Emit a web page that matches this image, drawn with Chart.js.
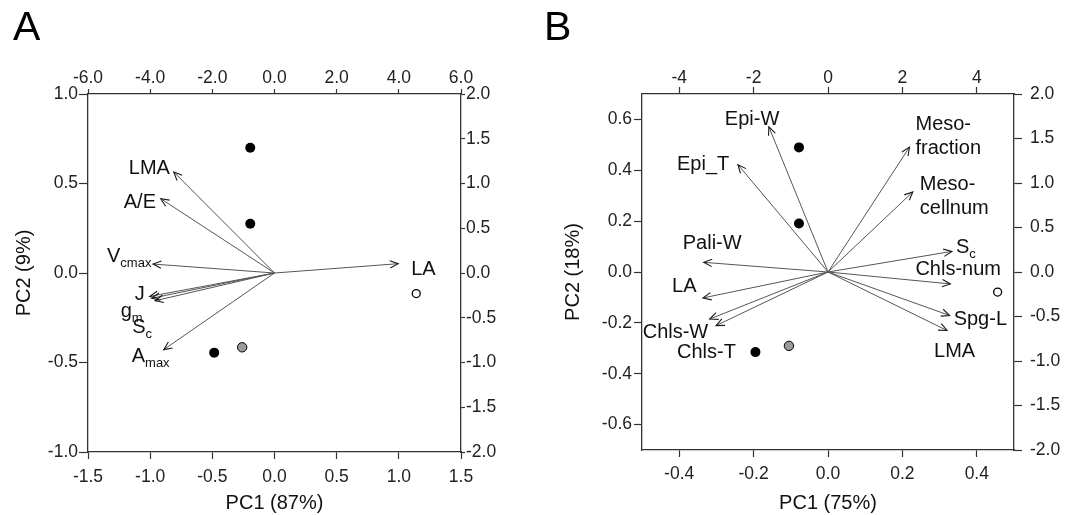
<!DOCTYPE html>
<html>
<head>
<meta charset="utf-8">
<script src="https://cdn.jsdelivr.net/npm/chart.js@4.4.0/dist/chart.umd.min.js"></script>
<style>
  html, body { margin: 0; padding: 0; background: #fff; }
  #wrap { position: relative; width: 1073px; height: 515px; }
  #chartA { position: absolute; left: 0; top: 0; }
  #chartB { position: absolute; left: 536px; top: 0; }
</style>
</head>
<body>
<div id="wrap">
  <canvas id="chartA" width="536" height="515"></canvas>
  <canvas id="chartB" width="537" height="515"></canvas>
</div>
<script>
// Panel A: loadings on bottom/left axes, scores on top/right axes
const loadNamesA = ['LMA', 'A/E', 'V', 'J', 'g', 'S', 'A', 'LA'];
const loadSubsA = ['', '', 'cmax', '', 'm', 'c', 'max', ''];
const loadXA = [-0.81, -0.915, -0.977, -1.004, -0.988, -0.96, -0.891, 0.995];
const loadYA = [0.564, 0.415, 0.05, -0.131, -0.141, -0.155, -0.428, 0.052];
const scoreXA = [-0.78, -0.78, -1.94, -1.04, 4.56];
const scoreYA = [1.40, 0.55, -0.89, -0.83, -0.23];
const ticksBottomA = [-1.5, -1.0, -0.5, 0, 0.5, 1.0, 1.5];
const ticksLeftA = [-1.0, -0.5, 0, 0.5, 1.0];
const ticksTopA = [-6, -4, -2, 0, 2, 4, 6];
const ticksRightA = [-2, -1.5, -1, -0.5, 0, 0.5, 1, 1.5, 2];

// Panel B
const loadNamesB = ['Epi-W', 'Epi_T', 'Pali-W', 'LA', 'Chls-W', 'Chls-T', 'Meso-\nfraction', 'Meso-\ncellnum', 'S', 'Chls-num', 'Spg-L', 'LMA'];
const loadSubsB = ['', '', '', '', '', '', '', '', 'c', '', '', ''];
const loadXB = [-0.159, -0.242, -0.334, -0.336, -0.318, -0.301, 0.219, 0.228, 0.333, 0.329, 0.327, 0.32];
const loadYB = [0.571, 0.422, 0.038, -0.102, -0.185, -0.211, 0.491, 0.315, 0.081, -0.047, -0.171, -0.230];
const scoreXB = [-0.78, -0.78, -1.95, -1.05, 4.56];
const scoreYB = [1.40, 0.545, -0.90, -0.83, -0.225];
const ticksBottomB = [-0.4, -0.2, 0, 0.2, 0.4];
const ticksLeftB = [-0.6, -0.4, -0.2, 0, 0.2, 0.4, 0.6];
const ticksTopB = [-4, -2, 0, 2, 4];
const ticksRightB = [-2, -1.5, -1, -0.5, 0, 0.5, 1, 1.5, 2];

// label placement next to arrow tips (px)
const labelOffA = [[-45, -4], [-37, 4], [-46, -8], [-15, -2], [-31, 13], [-23, 27], [-32, 7], [13, 6]];
const labelOffB = [[-44, -7], [-61, 0], [-21, -19], [-31, -11], [-67, 13], [-39, 27],
                   [6, -23], [7, -7], [4, -4], [-35, -14], [4, 4], [-13, 21]];

// symbols for the five score points
const scoreFill = ['#000', '#000', '#000', '#9a9a9a', '#fff'];
const scoreRadius = [5, 5, 5, 4.7, 4];
const scoreBorder = [0, 0, 0, 1, 1.3];

const FONT = "'Liberation Sans', Arial, Helvetica, sans-serif";
Chart.defaults.font.family = FONT;
Chart.defaults.color = '#111';

function setTicks(list) {
    return scale => { scale.ticks = list.map(v => ({ value: v })); };
}

function axis(pos, min, max, list, size, tickLen, pad, fmt, title, titlePad) {
    const horiz = pos === 'top' || pos === 'bottom';
    return {
        type: 'linear',
        position: pos,
        min: min,
        max: max,
        afterBuildTicks: setTicks(list),
        afterFit: s => { if (horiz) s.height = size; else s.width = size; },
        grid: { display: true, drawOnChartArea: false, drawTicks: true, tickLength: tickLen,
                color: '#333', tickColor: '#333', tickWidth: 1.2 },
        border: { display: true, color: '#333', width: 1.3 },
        ticks: { autoSkip: false, maxRotation: 0, padding: pad, color: '#222',
                 font: { size: 17.5 }, callback: fmt },
        title: title ? { display: true, text: title, color: '#111', font: { size: 20 }, padding: titlePad }
                     : { display: false }
    };
}

const fix1 = v => Number(v).toFixed(1);
const int0 = v => String(Math.round(v));

function decor(letter, letterX, names, subs, offs) {
    return {
        id: 'decor' + letter,
        afterDatasetsDraw(chart) {
            const ctx = chart.ctx;
            ctx.save();
            names.forEach((name, i) => {
                const pts = chart.getDatasetMeta(i).data;
                const a = pts[0], b = pts[1];
                const ang = Math.atan2(b.y - a.y, b.x - a.x);
                // open arrow head
                ctx.strokeStyle = '#1a1a1a';
                ctx.lineWidth = 1.1;
                ctx.beginPath();
                ctx.moveTo(b.x - 9 * Math.cos(ang - 0.42), b.y - 9 * Math.sin(ang - 0.42));
                ctx.lineTo(b.x, b.y);
                ctx.lineTo(b.x - 9 * Math.cos(ang + 0.42), b.y - 9 * Math.sin(ang + 0.42));
                ctx.stroke();
                // label
                const x = b.x + offs[i][0], y = b.y + offs[i][1];
                ctx.fillStyle = '#111';
                ctx.textAlign = 'left';
                ctx.textBaseline = 'middle';
                ctx.font = '20px ' + FONT;
                name.split('\n').forEach((ln, k) => ctx.fillText(ln, x, y + k * 24));
                if (subs[i]) {
                    const w = ctx.measureText(name).width;
                    ctx.font = '13px ' + FONT;
                    ctx.fillText(subs[i], x + w, y + 7);
                }
            });
            ctx.font = '41px ' + FONT;
            ctx.textBaseline = 'alphabetic';
            ctx.fillStyle = '#000';
            ctx.fillText(letter, letterX, 40);
            ctx.restore();
        }
    };
}

function buildDatasets(lx, ly, sx, sy) {
    const sets = lx.map((x, i) => ({
        data: [{ x: 0, y: 0 }, { x: x, y: ly[i] }],
        xAxisID: 'x', yAxisID: 'y',
        showLine: true,
        borderColor: '#555',
        borderWidth: 1,
        pointRadius: 0
    }));
    sets.push({
        data: sx.map((x, i) => ({ x: x, y: sy[i] })),
        xAxisID: 'x2', yAxisID: 'y2',
        showLine: false,
        pointRadius: scoreRadius,
        pointBackgroundColor: scoreFill,
        pointBorderColor: '#000',
        pointBorderWidth: scoreBorder
    });
    return sets;
}

function biplot(id, cfg) {
    return new Chart(document.getElementById(id), {
        type: 'scatter',
        data: { datasets: buildDatasets(cfg.lx, cfg.ly, cfg.sx, cfg.sy) },
        options: {
            responsive: false,
            animation: false,
            devicePixelRatio: 1,
            events: [],
            layout: { padding: 0 },
            plugins: { legend: { display: false }, tooltip: { enabled: false } },
            scales: cfg.scales
        },
        plugins: [cfg.plugin]
    });
}

biplot('chartA', {
    lx: loadXA, ly: loadYA, sx: scoreXA, sy: scoreYA,
    scales: {
        x: axis('bottom', -1.5, 1.5, ticksBottomA, 63, 7, 7.5, fix1, 'PC1 (87%)', { top: 0, bottom: 0 }),
        y: axis('left', -1, 1, ticksLeftA, 88, 9, 1, fix1, 'PC2 (9%)', { top: 12, bottom: 0 }),
        x2: axis('top', -6, 6, ticksTopA, 94, 5, 0, fix1),
        y2: axis('right', -2, 2, ticksRightA, 75, 4, 1, fix1)
    },
    plugin: decor('A', 13, loadNamesA, loadSubsA, labelOffA)
});

biplot('chartB', {
    lx: loadXB, ly: loadYB, sx: scoreXB, sy: scoreYB,
    scales: {
        x: axis('bottom', -0.5, 0.5, ticksBottomB, 65, 7, 6.5, fix1, 'PC1 (75%)', { top: 0, bottom: 0 }),
        y: axis('left', -0.7, 0.7, ticksLeftB, 106, 8, 2, fix1, 'PC2 (18%)', { top: 25, bottom: 0 }),
        x2: axis('top', -5, 5, ticksTopB, 94, 7, -2, int0),
        y2: axis('right', -2, 2, ticksRightB, 59, 8, 8, fix1)
    },
    plugin: decor('B', 8, loadNamesB, loadSubsB, labelOffB)
});
</script>
</body>
</html>
